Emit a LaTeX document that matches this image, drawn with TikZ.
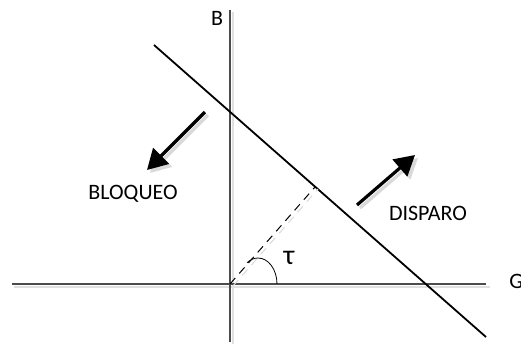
\documentclass[tikz,border=0pt]{standalone}
\usepackage{fontspec}
\setmainfont{Carlito}
\usetikzlibrary{arrows.meta}

\tikzset{
    axisline/.style={draw=black!70, line width=0.6pt},
    shadowline/.style={draw=black!12, line width=0.6pt},
    trip/.style={line width=1.6pt, -{Triangle[length=10pt, width=11pt]}},
    label/.style={font=\fontsize{11}{13}\selectfont, inner sep=0pt}
}

\begin{document}
\begin{tikzpicture}[x=0.5pt, y=-0.5pt]
        \useasboundingbox (0,0) rectangle (521,345);

        % Axes (with light shadow)
        \draw[shadowline] (14,287) -- (490,287);
        \draw[shadowline] (233,12) -- (233,344);
        \draw[axisline] (12,284) -- (486,284);
        \draw[axisline] (230,10) -- (230,342);
        \coordinate (O) at (230,284);
        \node[label] (B) at (217,18) {B};
        \node[label, anchor=west] (G) at (509,281) {G};

        % Trip characteristic line
        \coordinate (P1) at (154,45);
        \coordinate (P2) at (486,337);
        \draw[black, line width=0.9pt] (P1) -- (P2);

        % Perpendicular from the origin and the angle
        \coordinate (F) at (315,187);
        \draw[black!15, line width=0.5pt, dash pattern=on 4pt off 3pt] ([shift={(3,2)}]O) -- ([shift={(3,2)}]F);
        \draw[black, line width=0.5pt, dash pattern=on 4pt off 3pt] (O) -- (F);
        \draw[black, line width=0.4pt] (277,284) arc[start angle=0, end angle=-125, x radius=19, y radius=26];
        \node[label, font=\fontsize{14}{16}\selectfont] (tau) at (289,258) {τ};

        % Direction arrows (with shadow)
        \draw[trip, black!15] (208,115) -- (150,173);
        \draw[trip, black] (205,112) -- (147,170);
        \draw[trip, black!15] (360,208) -- (418,158);
        \draw[trip, black] (357,205) -- (415,155);

        \node[label] (bloq) at (133,194) {BLOQUEO};
        \node[label] (disp) at (428,213) {DISPARO};
    \end{tikzpicture}
\end{document}
